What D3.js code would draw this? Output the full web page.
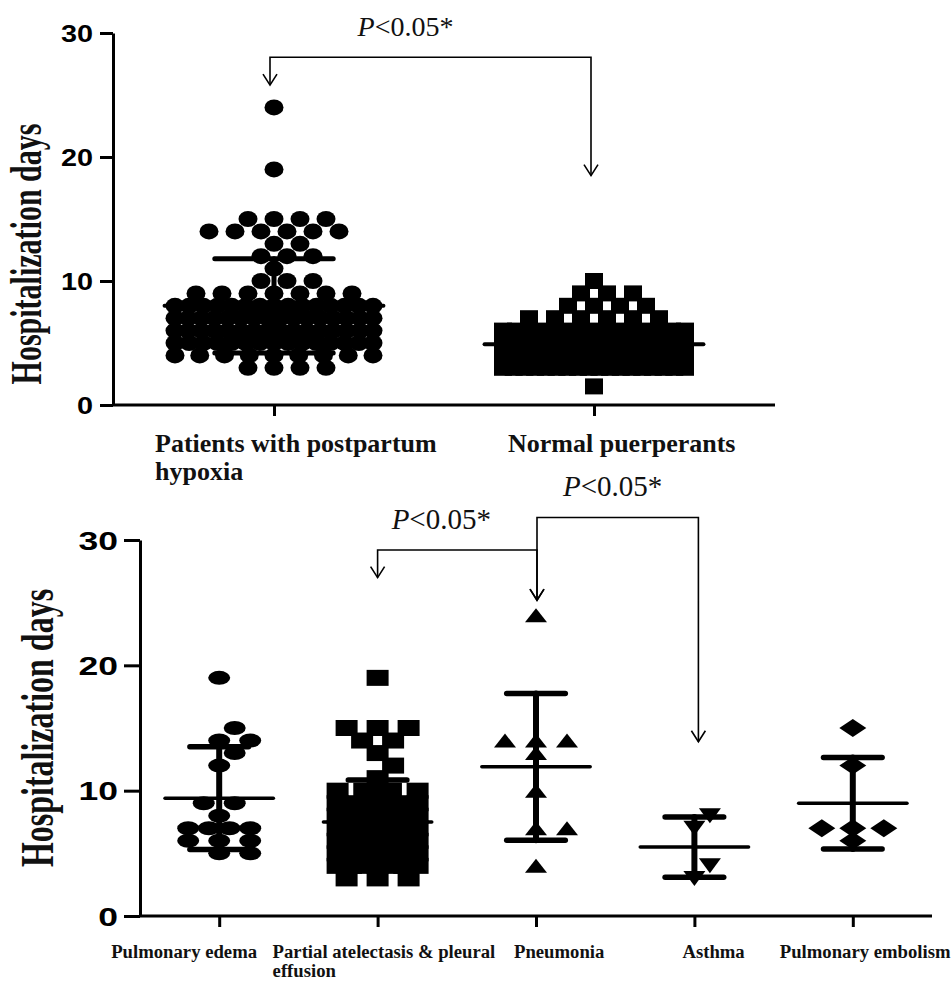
<!DOCTYPE html>
<html>
<head>
<meta charset="utf-8">
<script src="https://cdn.jsdelivr.net/npm/d3@7"></script>
<style>
  body { margin: 0; background: #fff; }
  svg { display: block; }
</style>
</head>
<body>
<svg width="951" height="983"></svg>
<script>
// ---- top panel data ----
const topGroups = ["Patients with postpartum hypoxia", "Normal puerperants"];
const topLabelLines = [["Patients with postpartum", "hypoxia"], ["Normal puerperants"]];
const hypoxiaDays   = [24, 19, 15, 14, 13, 12, 11, 10, 9, 8, 7, 6, 5, 4, 3];
const hypoxiaCounts = [1, 1, 4, 6, 2, 3, 1, 3, 7, 15, 16, 16, 15, 9, 4];
const normalDays    = [10, 9, 8, 7, 6, 5, 4, 3, 1.5];
const normalCounts  = [1, 3, 4, 6, 15, 18, 20, 18, 1];
const topMean = [8.0, 4.9];
const topSD   = [3.8, 1.5];

// ---- bottom panel data ----
const bottomGroups = ["Pulmonary edema", "Partial atelectasis & pleural effusion", "Pneumonia", "Asthma", "Pulmonary embolism"];
const bottomLabelLines = [["Pulmonary edema"], ["Partial atelectasis & pleural", "effusion"], ["Pneumonia"], ["Asthma"], ["Pulmonary embolism"]];
const edemaDays     = [19, 15, 14, 14, 13, 12, 9, 9, 8, 7, 7, 7, 7, 6, 6, 6, 5, 5];
const pleuralDays   = [19, 15, 14, 13, 12, 11, 10, 9, 8, 7, 6, 5, 4, 3];
const pleuralCounts = [1, 3, 2, 1, 1, 1, 4, 6, 7, 8, 7, 8, 7, 3];
const pneumoniaDays = [24, 14, 14, 14, 13, 10, 7, 7, 4];
const asthmaDays    = [8, 7, 4, 3];
const embolismDays  = [15, 12, 7, 7, 7, 6];
const bottomMean = [9.4, 7.5, 11.9, 5.5, 9.0];
const bottomSD   = [4.1, 3.35, 5.85, 2.4, 3.65];

const yTicks = [0, 10, 20, 30];

// comparisons drawn as brackets (y in days)
const topBrackets = [{from: 0, to: 1, level: 28.05, tipFrom: 25.8, tipTo: 18.5, textShift: -25}];
const bottomBrackets = [
    {from: 1, to: 2, level: 29.2, tipFrom: 27.0, tipTo: 25.2, textShift: -16},
    {from: 2, to: 3, level: 31.8, tipFrom: 25.2, tipTo: 13.9, textShift: -5}
];

const expand = (days, counts) => days.flatMap((d, i) => d3.range(counts[i]).map(() => d));

const svg = d3.select("svg");

// unit shapes (1x1 box), stretched later with scale()
const poly = pts => ({
    draw(ctx) {
        ctx.moveTo(pts[0][0], pts[0][1]);
        pts.slice(1).forEach(p => ctx.lineTo(p[0], p[1]));
        ctx.closePath();
    }
});
const shapes = {
    circle: d3.symbolCircle,
    square: d3.symbolSquare,
    triangle: poly([[0, -0.5], [0.5, 0.5], [-0.5, 0.5]]),
    triangleDown: poly([[0, 0.5], [0.5, -0.5], [-0.5, -0.5]]),
    diamond: poly([[0, -0.5], [0.5, 0], [0, 0.5], [-0.5, 0]])
};
function shapePath(name) {
    return d3.symbol().type(shapes[name]).size(name === "circle" ? Math.PI / 4 : 1)();
}

// scatter layout, rows from low to high: try slots 0, +.5, -.5, +1 ... (in steps),
// squeeze the row when it does not fit
function swarm(values, y, step, w, h, maxHalf) {
    const placed = [];
    const rows = d3.rollups(values, v => v.length, v => v).sort((a, b) => a[0] - b[0]);
    const cands = [0];
    for (let k = 0.5; k * step <= maxHalf + 0.5; k += 0.5) cands.push(k, -k);
    rows.forEach(([v, n]) => {
        let row = [];
        for (const c of cands) {
            if (row.length === n) break;
            const dx = c * step;
            const clash = row.some(p => Math.abs(p.dx - dx) < step * 0.9) ||
                placed.some(p => Math.abs(y(p.v) - y(v)) < h * 0.95 && Math.abs(p.dx - dx) < w * 0.6);
            if (!clash) row.push({v: v, dx: dx});
        }
        if (row.length < n) {
            const half = Math.min(maxHalf, (n - 1) / 2 * step);
            const s = n > 1 ? 2 * half / (n - 1) : 0;
            row = d3.range(n).map(i => ({v: v, dx: n > 1 ? -half + i * s : 0}));
        }
        placed.push(...row);
    });
    return placed;
}

function drawPanel(cfg) {
    const g = svg.append("g");
    const x = cfg.x, y = cfg.y;

    // points
    cfg.groups.forEach((grp, i) => {
        const sym = cfg.symbols[i];
        const pts = swarm(cfg.values[i], y, cfg.step, sym.w, sym.h, cfg.spread[i]);
        g.append("g").selectAll("path")
            .data(pts)
            .join("path")
            .attr("d", shapePath(sym.shape))
            .attr("fill", "#000")
            .attr("transform", d => `translate(${x(grp) + d.dx},${y(d.v)}) scale(${sym.w},${sym.h})`);
    });

    // mean and SD
    const bw = cfg.bandStep;
    const eb = g.append("g").attr("stroke", "#000").attr("stroke-linecap", "round");
    cfg.groups.forEach((grp, i) => {
        const cx = x(grp), m = cfg.mean[i], s = cfg.sd[i];
        eb.append("line")
            .attr("x1", cx).attr("x2", cx)
            .attr("y1", y(m + s)).attr("y2", y(m - s))
            .attr("stroke-width", cfg.barW);
        [m + s, m - s].forEach(v => {
            eb.append("line")
                .attr("x1", cx - 0.185 * bw).attr("x2", cx + 0.185 * bw)
                .attr("y1", y(v)).attr("y2", y(v))
                .attr("stroke-width", cfg.capW);
        });
        eb.append("line")
            .attr("x1", cx - 0.342 * bw).attr("x2", cx + 0.342 * bw)
            .attr("y1", y(m)).attr("y2", y(m))
            .attr("stroke-width", cfg.meanW);
    });

    // axes
    const yAxis = g.append("g")
        .attr("transform", `translate(${cfg.left},0)`)
        .call(d3.axisLeft(y).tickValues(yTicks).tickSize(cfg.yTick).tickSizeOuter(0));
    yAxis.select(".domain").attr("stroke-width", 3);
    yAxis.selectAll(".tick line").attr("stroke-width", 3);
    yAxis.selectAll(".tick text")
        .attr("x", null).attr("dy", "0.36em")
        .attr("transform", `translate(${-cfg.yLabelGap},0) scale(${cfg.numStretch},1)`)
        .attr("font-family", "'Liberation Sans', Arial, sans-serif")
        .attr("font-weight", "bold")
        .attr("font-size", cfg.numSize)
        .attr("fill", "#000");

    g.append("line")
        .attr("x1", cfg.left).attr("x2", cfg.right)
        .attr("y1", y(0)).attr("y2", y(0))
        .attr("stroke", "#000").attr("stroke-width", 3);
    const xAxis = g.append("g")
        .attr("transform", `translate(0,${y(0)})`)
        .call(d3.axisBottom(x).tickSize(11).tickFormat(""));
    xAxis.select(".domain").remove();
    xAxis.selectAll(".tick line").attr("stroke-width", 3);

    // category labels
    cfg.groups.forEach((grp, i) => {
        const t = g.append("text")
            .attr("font-family", "'Liberation Serif', 'Times New Roman', serif")
            .attr("font-weight", "bold")
            .attr("font-size", cfg.catSize)
            .attr("fill", "#111");
        cfg.labelLines[i].forEach((line, k) => {
            t.append("tspan")
                .attr("x", x(grp) + cfg.labelShift[i])
                .attr("y", y(0) + cfg.labelDrop + k * cfg.lineGap)
                .text(line);
        });
    });

    // y title
    const mid = (y(0) + y(30)) / 2 + cfg.titleShift;
    g.append("text")
        .attr("transform", `translate(${cfg.titleX},${mid}) scale(${cfg.titleStretch},1) rotate(-90)`)
        .attr("text-anchor", "middle")
        .attr("font-family", "'Liberation Serif', 'Times New Roman', serif")
        .attr("font-weight", "bold")
        .attr("font-size", cfg.titleSize)
        .attr("fill", "#111")
        .text("Hospitalization days");

    // comparison brackets
    const br = g.append("g").attr("fill", "none").attr("stroke", "#000").attr("stroke-width", 1.6);
    cfg.brackets.forEach(b => {
        const x1 = x(cfg.groups[b.from]) + cfg.bracketDx[b.from];
        const x2 = x(cfg.groups[b.to]) + cfg.bracketDx[b.to];
        const ly = y(b.level);
        br.append("path").attr("d", `M${x1},${y(b.tipFrom)}V${ly}H${x2}V${y(b.tipTo)}`);
        [[x1, y(b.tipFrom)], [x2, y(b.tipTo)]].forEach(([ax, ay]) => {
            br.append("path").attr("d", `M${ax - 7},${ay - 11}L${ax},${ay}L${ax + 7},${ay - 11}`);
        });
        const t = g.append("text")
            .attr("x", (x1 + x2) / 2 + b.textShift)
            .attr("y", ly - 21)
            .attr("text-anchor", "middle")
            .attr("font-family", "'Liberation Serif', 'Times New Roman', serif")
            .attr("font-size", cfg.pSize)
            .attr("fill", "#111");
        t.append("tspan").attr("font-style", "italic").text("P");
        t.append("tspan").text("<0.05*");
    });
}

// top panel
drawPanel({
    groups: topGroups,
    labelLines: topLabelLines,
    values: [expand(hypoxiaDays, hypoxiaCounts), expand(normalDays, normalCounts)],
    mean: topMean, sd: topSD,
    x: d3.scalePoint().domain(topGroups).range([274, 594]),
    y: d3.scaleLinear().domain([0, 30]).range([405, 33]),
    bandStep: 320,
    left: 113, right: 775,
    step: 26, spread: [99, 91],
    symbols: [{shape: "circle", w: 19, h: 16}, {shape: "square", w: 18, h: 16}],
    barW: 5, capW: 5, meanW: 4,
    yTick: 13, yLabelGap: 20, numSize: 24, numStretch: 1.2,
    catSize: 26, labelShift: [-119, -86], labelDrop: 47, lineGap: 28,
    titleX: 41, titleShift: 35, titleSize: 30, titleStretch: 1.45,
    brackets: topBrackets, bracketDx: [-4, -3], pSize: 28
});

// bottom panel
const xb = d3.scalePoint().domain(bottomGroups).range([140, 932]).padding(0.5);
drawPanel({
    groups: bottomGroups,
    labelLines: bottomLabelLines,
    values: [edemaDays, expand(pleuralDays, pleuralCounts), pneumoniaDays, asthmaDays, embolismDays],
    mean: bottomMean, sd: bottomSD,
    x: xb,
    y: d3.scaleLinear().domain([0, 30]).range([916, 540]),
    bandStep: xb.step(),
    left: 140, right: 932,
    step: 31, spread: [31, 40, 33, 33, 33],
    symbols: [
        {shape: "circle", w: 22, h: 14},
        {shape: "square", w: 22, h: 16},
        {shape: "triangle", w: 22, h: 14},
        {shape: "triangleDown", w: 22, h: 15},
        {shape: "diamond", w: 27, h: 18}
    ],
    barW: 6, capW: 5.5, meanW: 3.5,
    yTick: 16, yLabelGap: 22, numSize: 25, numStretch: 1.42,
    catSize: 18.7, labelShift: [-108, -105, -22, -12, -73], labelDrop: 42, lineGap: 19,
    titleX: 53, titleShift: 0, titleSize: 32, titleStretch: 1.45,
    brackets: bottomBrackets, bracketDx: [0, 0, 1, 4, 0], pSize: 29
});
</script>
</body>
</html>
